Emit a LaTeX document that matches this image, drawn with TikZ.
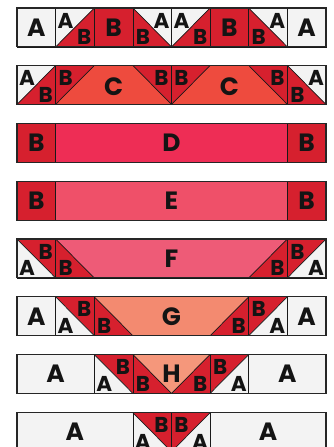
\documentclass[tikz,border=0pt]{standalone}
\usepackage{fontspec}
\newfontfamily\qf{Poppins}
\definecolor{qa}{HTML}{F3F3F3}
\definecolor{qb}{HTML}{D6202E}
\definecolor{qc}{HTML}{EE4B3E}
\definecolor{qd}{HTML}{EE2D55}
\definecolor{qe}{HTML}{EF5069}
\definecolor{qf}{HTML}{EE5B77}
\definecolor{qg}{HTML}{F38A70}
\definecolor{qh}{HTML}{F5977B}
\def\u{38.625}
\def\h{38.9}
\def\ix{10}
\def\iy{12.5}
\def\jy{9.5}
\newcommand\X[1]{17+(#1)*\u}
\newcommand\rowat[2]{\def\T{#1}\def\R{#2}}
\newcommand\blk[4]{%
  \fill[#3] ({\X{#1}},{\T}) rectangle ({\X{#1+#2}},{\T+\h});
  \draw[ln] ({\X{#1}},{\T}) rectangle ({\X{#1+#2}},{\T+\h});
  \node[big] (\R-#1) at ({\X{#1+#2/2}},{\T+\h/2}) {#4};}
% diagonal bottom-left to top-right: top-left and bottom-right triangles
\newcommand\hstA[5]{%
  \fill[#2] ({\X{#1}},{\T}) -- ({\X{#1+1}},{\T}) -- ({\X{#1}},{\T+\h}) -- cycle;
  \fill[#4] ({\X{#1+1}},{\T}) -- ({\X{#1+1}},{\T+\h}) -- ({\X{#1}},{\T+\h}) -- cycle;
  \draw[ln] ({\X{#1}},{\T+\h}) -- ({\X{#1+1}},{\T});
  \draw[ln] ({\X{#1}},{\T}) rectangle ({\X{#1+1}},{\T+\h});
  \node[sm] (\R-#1a) at ({\X{#1}+\ix},{\T+\iy}) {#3};
  \node[sm] (\R-#1b) at ({\X{#1+1}-\ix},{\T+\h-\jy}) {#5};}
% diagonal top-left to bottom-right: top-right and bottom-left triangles
\newcommand\hstB[5]{%
  \fill[#2] ({\X{#1}},{\T}) -- ({\X{#1+1}},{\T}) -- ({\X{#1+1}},{\T+\h}) -- cycle;
  \fill[#4] ({\X{#1}},{\T}) -- ({\X{#1}},{\T+\h}) -- ({\X{#1+1}},{\T+\h}) -- cycle;
  \draw[ln] ({\X{#1}},{\T}) -- ({\X{#1+1}},{\T+\h});
  \draw[ln] ({\X{#1}},{\T}) rectangle ({\X{#1+1}},{\T+\h});
  \node[sm] (\R-#1a) at ({\X{#1+1}-\ix},{\T+\iy}) {#3};
  \node[sm] (\R-#1b) at ({\X{#1}+\ix},{\T+\h-\jy}) {#5};}
% rectangle with red triangles at the top corners
\newcommand\gooseTop[4]{%
  \fill[#3] ({\X{#1}},{\T}) rectangle ({\X{#1+#2}},{\T+\h});
  \fill[qb] ({\X{#1}},{\T}) -- ({\X{#1+1}},{\T}) -- ({\X{#1}},{\T+\h}) -- cycle;
  \fill[qb] ({\X{#1+#2}},{\T}) -- ({\X{#1+#2-1}},{\T}) -- ({\X{#1+#2}},{\T+\h}) -- cycle;
  \draw[ln] ({\X{#1}},{\T+\h}) -- ({\X{#1+1}},{\T});
  \draw[ln] ({\X{#1+#2}},{\T+\h}) -- ({\X{#1+#2-1}},{\T});
  \draw[ln] ({\X{#1}},{\T}) rectangle ({\X{#1+#2}},{\T+\h});
  \node[sm] (\R-#1a) at ({\X{#1}+\ix},{\T+\iy}) {B};
  \node[sm] (\R-#1b) at ({\X{#1+#2}-\ix},{\T+\iy}) {B};
  \node[big] (\R-#1c) at ({\X{#1+#2/2}},{\T+\h/2+2}) {#4};}
% rectangle with red triangles at the bottom corners
\newcommand\gooseBot[4]{%
  \fill[#3] ({\X{#1}},{\T}) rectangle ({\X{#1+#2}},{\T+\h});
  \fill[qb] ({\X{#1}},{\T}) -- ({\X{#1}},{\T+\h}) -- ({\X{#1+1}},{\T+\h}) -- cycle;
  \fill[qb] ({\X{#1+#2}},{\T}) -- ({\X{#1+#2}},{\T+\h}) -- ({\X{#1+#2-1}},{\T+\h}) -- cycle;
  \draw[ln] ({\X{#1}},{\T}) -- ({\X{#1+1}},{\T+\h});
  \draw[ln] ({\X{#1+#2}},{\T}) -- ({\X{#1+#2-1}},{\T+\h});
  \draw[ln] ({\X{#1}},{\T}) rectangle ({\X{#1+#2}},{\T+\h});
  \node[sm] (\R-#1a) at ({\X{#1}+\ix},{\T+\h-\jy}) {B};
  \node[sm] (\R-#1b) at ({\X{#1+#2}-\ix},{\T+\h-\jy}) {B};
  \node[big] (\R-#1c) at ({\X{#1+#2/2}},{\T+\h/2}) {#4};}
\newcommand\stripline{\draw[outer] ({\X{0}},{\T}) rectangle ({\X{8}},{\T+\h});}
\begin{document}
\begin{tikzpicture}[x=1pt,y=-1pt,
  ln/.style={draw=black!90, line width=0.7pt},
  outer/.style={draw=black!85, line width=1.1pt},
  big/.style={inner sep=0pt, text=black!92, font=\fontsize{25}{25}\qf\bfseries},
  sm/.style={inner sep=0pt, text=black!92, font=\fontsize{21.5}{21.5}\qf\bfseries}]
\useasboundingbox (0,0) rectangle (333,447);
\clip (0,0) rectangle (333,447);
\fill[white] (0,0) rectangle (333,447);
% row 1
\rowat{8}{r1}
\blk{0}{1}{qa}{A}
\hstA{1}{qa}{A}{qb}{B}
\blk{2}{1}{qb}{B}
\hstB{3}{qa}{A}{qb}{B}
\hstA{4}{qa}{A}{qb}{B}
\blk{5}{1}{qb}{B}
\hstB{6}{qa}{A}{qb}{B}
\blk{7}{1}{qa}{A}
\stripline
% row 2
\rowat{65.5}{r2}
\hstA{0}{qa}{A}{qb}{B}
\gooseTop{1}{3}{qc}{C}
\gooseTop{4}{3}{qc}{C}
\hstB{7}{qa}{A}{qb}{B}
\stripline
% row 3
\rowat{123.7}{r3}
\blk{0}{1}{qb}{B}
\blk{1}{6}{qd}{D}
\blk{7}{1}{qb}{B}
\stripline
% row 4
\rowat{181.3}{r4}
\blk{0}{1}{qb}{B}
\blk{1}{6}{qe}{E}
\blk{7}{1}{qb}{B}
\stripline
% row 5
\rowat{239}{r5}
\hstB{0}{qb}{B}{qa}{A}
\gooseBot{1}{6}{qf}{F}
\hstA{7}{qb}{B}{qa}{A}
\stripline
% row 6
\rowat{296.8}{r6}
\blk{0}{1}{qa}{A}
\hstB{1}{qb}{B}{qa}{A}
\gooseBot{2}{4}{qg}{G}
\hstA{6}{qb}{B}{qa}{A}
\blk{7}{1}{qa}{A}
\stripline
% row 7
\rowat{354.5}{r7}
\blk{0}{2}{qa}{A}
\hstB{2}{qb}{B}{qa}{A}
\gooseBot{3}{2}{qh}{H}
\hstA{5}{qb}{B}{qa}{A}
\blk{6}{2}{qa}{A}
\stripline
% row 8
\rowat{412.7}{r8}
\blk{0}{3}{qa}{A}
\hstB{3}{qb}{B}{qa}{A}
\hstA{4}{qb}{B}{qa}{A}
\blk{5}{3}{qa}{A}
\stripline
\end{tikzpicture}
\end{document}
